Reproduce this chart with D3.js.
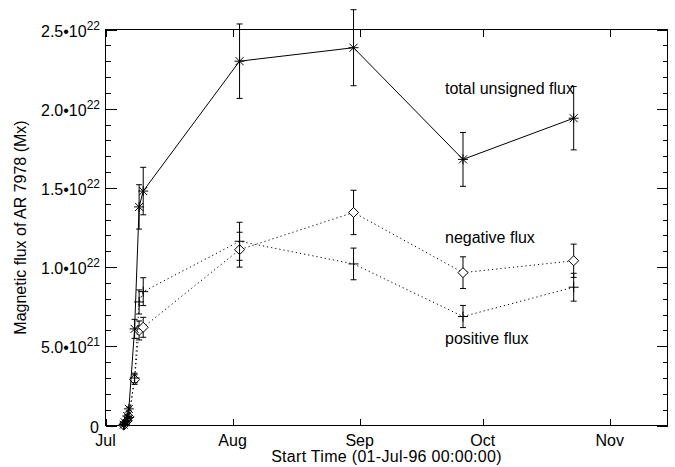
<!DOCTYPE html>
<html><head><meta charset="utf-8">
<script src="https://cdn.jsdelivr.net/npm/d3@7"></script>
<style>body{margin:0;background:#fff}svg{display:block}text{font-family:"Liberation Sans",Arial,sans-serif;fill:#000}</style>
</head><body><svg id="c" width="675" height="467"></svg>
<script>
// ---- data (flux in units of 1e22 Mx) ----
const obsTimes = ["1996-07-05T10:48","1996-07-05T16:48","1996-07-06T07:12","1996-07-06T16:48","1996-07-08T02:24","1996-07-09T04:48","1996-07-10T04:48","1996-08-02T16:48","1996-08-30T12:00","1996-09-26T04:48","1996-10-23T04:48"];
const totalFlux = [0.005,0.02,0.06,0.105,0.61,1.38,1.48,2.30,2.385,1.68,1.94];
const totalErr  = [0.001,0.003,0.008,0.012,0.06,0.14,0.15,0.235,0.24,0.17,0.20];
const posFlux   = [0.003,0.01,0.03,0.05,0.30,0.78,0.845,1.163,1.02,0.688,0.873];
const posErr    = [0.001,0.002,0.004,0.006,0.03,0.076,0.088,0.12,0.10,0.07,0.088];
const negFlux   = [0.002,0.01,0.03,0.055,0.29,0.60,0.62,1.11,1.345,0.965,1.04];
const negErr    = [0.001,0.002,0.004,0.006,0.03,0.06,0.063,0.11,0.14,0.10,0.105];
const xStart = "1996-07-01T00:00", xEnd = "1996-11-15T02:00";
const monthTicks = ["1996-07-01T00:00","1996-08-01T00:00","1996-09-01T00:00","1996-10-01T00:00","1996-11-01T00:00"];
const yMajor = [0,0.5,1.0,1.5,2.0,2.5];
const yLabelMant = ["0","5.0","1.0","1.5","2.0","2.5"];
const yLabelExp  = ["","21","22","22","22","22"];
const seriesLabels = ["total unsigned flux","negative flux","positive flux"];
const xTitle = "Start Time (01-Jul-96 00:00:00)";
const yTitle = "Magnetic flux of AR 7978 (Mx)";

const parse = d3.utcParse("%Y-%m-%dT%H:%M");
const svg = d3.select("#c");
const L=105.5,R=667.5,T=29.5,B=425.5;
const x = d3.scaleUtc().domain([parse(xStart),parse(xEnd)]).range([L,R]);
const y = d3.scaleLinear().domain([0,2.5]).range([B,T]);
const mticks = monthTicks.map(parse);
const yMinor = d3.range(0,2.5001,0.1).map(v=>+v.toFixed(2)).filter(v=>!yMajor.some(m=>Math.abs(m-v)<1e-6));

function styleAxis(g){g.select(".domain").remove();g.selectAll("line").attr("stroke","#000").attr("shape-rendering","crispEdges");g.selectAll("text").remove();}
// bottom/top x ticks (inward)
svg.append("g").attr("transform",`translate(0,${B})`).call(d3.axisTop(x).tickValues(mticks).tickSize(7)).call(styleAxis);
svg.append("g").attr("transform",`translate(0,${T})`).call(d3.axisBottom(x).tickValues(mticks).tickSize(7)).call(styleAxis);
// left / right y ticks
svg.append("g").attr("transform",`translate(${L},0)`).call(d3.axisRight(y).tickValues(yMajor).tickSize(11)).call(styleAxis);
svg.append("g").attr("transform",`translate(${L},0)`).call(d3.axisRight(y).tickValues(yMinor).tickSize(5)).call(styleAxis);
svg.append("g").attr("transform",`translate(${R},0)`).call(d3.axisLeft(y).tickValues(yMajor).tickSize(11)).call(styleAxis);
svg.append("g").attr("transform",`translate(${R},0)`).call(d3.axisLeft(y).tickValues(yMinor).tickSize(5)).call(styleAxis);
svg.append("rect").attr("x",L).attr("y",T).attr("width",R-L).attr("height",B-T).attr("fill","none").attr("stroke","#000");

// tick labels
const fs=16;
mticks.forEach(d=>{
  svg.append("text").attr("x",x(d)).attr("y",446).attr("text-anchor","middle").attr("font-size",fs).text(d3.utcFormat("%b")(d));
});
yMajor.forEach((v,i)=>{
  const t=svg.append("text").attr("x",100).attr("y",y(v)+7).attr("text-anchor","end").attr("font-size",fs);
  if(yLabelExp[i]===""){ t.attr("x",99).text(yLabelMant[i]); }
  else{
    t.append("tspan").text(yLabelMant[i]+"\u202210");
    t.append("tspan").attr("dy",-7).attr("font-size",12).text(yLabelExp[i]);
  }
});
svg.append("text").attr("x",(L+R)/2).attr("y",462).attr("text-anchor","middle").attr("font-size",fs).attr("letter-spacing",0.3).text(xTitle);
svg.append("text").attr("transform",`translate(26,${(T+B)/2}) rotate(-90)`).attr("text-anchor","middle").attr("font-size",fs).text(yTitle);

// series
const times = obsTimes.map(parse);
function series(vals, errs, dashed, marker){
  const pts = times.map((t,i)=>({x:x(t),y:y(vals[i]),lo:y(vals[i]-errs[i]),hi:y(vals[i]+errs[i])}));
  svg.append("path").attr("d",d3.line().x(d=>d.x).y(d=>d.y)(pts)).attr("fill","none").attr("stroke","#000")
     .attr("stroke-width",1).attr("stroke-dasharray",dashed?"1.2,3":null);
  const g=svg.append("g").attr("stroke","#000").attr("fill","none").attr("stroke-width",1);
  pts.forEach(p=>{
    g.append("line").attr("x1",p.x).attr("x2",p.x).attr("y1",p.lo).attr("y2",p.hi);
    g.append("line").attr("x1",p.x-3).attr("x2",p.x+3).attr("y1",p.lo).attr("y2",p.lo);
    g.append("line").attr("x1",p.x-3).attr("x2",p.x+3).attr("y1",p.hi).attr("y2",p.hi);
    if(marker==="star"){
      g.append("path").attr("d",`M${p.x-5},${p.y}h10M${p.x},${p.y-5}v10M${p.x-4},${p.y-4}l8,8M${p.x-4},${p.y+4}l8,-8`);
    } else if(marker==="diamond"){
      g.append("path").attr("d",`M${p.x},${p.y-5}L${p.x+5},${p.y}L${p.x},${p.y+5}L${p.x-5},${p.y}Z`).attr("fill","#fff");
    } else {
      g.append("path").attr("d",`M${p.x-5},${p.y}h10M${p.x},${p.y-5}v10`);
    }
  });
}
series(negFlux,negErr,true,"diamond");
series(posFlux,posErr,true,"plus");
series(totalFlux,totalErr,false,"star");

svg.append("text").attr("x",445).attr("y",94).attr("font-size",fs).text(seriesLabels[0]);
svg.append("text").attr("x",445).attr("y",243).attr("font-size",fs).text(seriesLabels[1]);
svg.append("text").attr("x",445).attr("y",344).attr("font-size",fs).text(seriesLabels[2]);
</script></body></html>
